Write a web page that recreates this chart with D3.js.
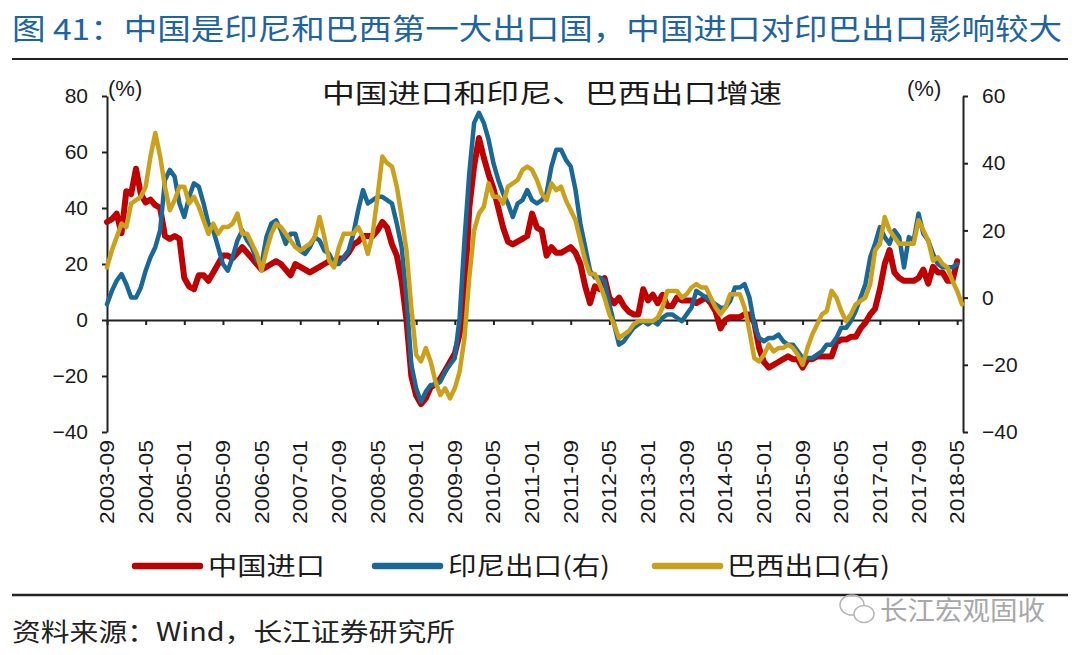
<!DOCTYPE html>
<html>
<head>
<meta charset="utf-8">
<script src="https://cdn.jsdelivr.net/npm/d3@7"></script>
<style>
  html, body { margin: 0; padding: 0; background: #fff; }
  svg { display: block; }
</style>
</head>
<body>
<div id="chart"></div>
<script>
// ---------------- DATA ----------------
const startMonth = new Date(2003, 8, 1); // 2003-09
const tickLabels = ["2003-09","2004-05","2005-01","2005-09","2006-05","2007-01","2007-09","2008-05",
  "2009-01","2009-09","2010-05","2011-01","2011-09","2012-05","2013-01","2013-09","2014-05",
  "2015-01","2015-09","2016-05","2017-01","2017-09","2018-05"];
const leftTicks = [-40, -20, 0, 20, 40, 60, 80];
const rightTicks = [-40, -20, 0, 20, 40, 60];

// China imports YoY (%), left axis, 2003-09 .. 2018-05
const chinaImport = [
  35,36,38,31,46,45,54,45,42,43,41,40,30,29,30,29,15,12,11,16,
  16,14,17,20,23,23,22,24,26,24,22,20,18,19,20,21,20,18,16,20,
  19,18,17,18,19,20,21,21,22,22,24,27,28,30,30,30,32,35,33,27,
  23,14,0,-20,-27,-30,-28,-24,-23,-21,-18,-15,-12,-5,7,40,55,65,58,52,
  47,40,33,28,27,28,29,30,38,33,32,23,26,24,24,25,26,24,20,12,
  6,12,11,15,8,6,8,5,3,2,2,11,7,9,6,9,5,5,8,7,
  7,7,6,7,8,6,3,-3,0,1,1,1,2,2,-1,-10,-15,-17,-16,-15,
  -14,-13,-14,-14,-17,-14,-14,-13,-13,-13,-13,-8,-7,-7,-6,-6,-3,-1,2,4,
  11,20,25,17,15,14,14,14,15,18,13,19,17,17,14,14,21
];
// Indonesia exports YoY (%), right axis, 2003-09 .. 2018-05
const indonesiaExport = [
  -2,2,5,7,4,0,0,3,8,12,15,20,35,38,36,28,24,30,34,33,
  28,22,20,15,10,8,12,17,20,17,15,11,10,18,22,23,20,16,19,19,
  14,13,15,18,17,14,13,10,10,12,14,19,26,32,28,29,30,30,29,28,
  22,15,0,-20,-27,-31,-28,-26,-26,-25,-22,-20,-18,-6,17,37,52,55,52,47,
  40,35,31,28,24,28,29,32,29,28,29,31,39,44,44,41,39,32,22,15,
  8,6,6,5,-2,-8,-14,-13,-11,-9,-8,-7,-8,-7,-8,-6,-5,-5,-6,-7,
  -5,-3,2,1,0,-1,-2,-3,-3,-1,3,3,4,0,-8,-12,-13,-12,-12,-11,
  -13,-14,-14,-16,-18,-18,-18,-17,-16,-14,-14,-12,-9,-9,-7,-4,0,4,12,16,
  21,18,16,20,18,9,18,17,25,19,17,13,10,9,9,9,10
];
// Brazil exports YoY (%), right axis, 2003-09 .. 2018-06
const brazilExport = [
  9,14,18,22,21,28,29,30,33,42,49,42,33,26,29,33,33,28,30,27,
  23,19,22,19,21,21,22,25,19,19,16,13,8,14,19,22,21,19,17,15,
  14,15,16,18,24,18,11,9,15,19,19,19,21,18,13,19,30,42,40,39,
  33,24,14,-3,-17,-19,-15,-19,-25,-29,-27,-30,-27,-22,-12,6,20,25,27,34,
  30,30,28,33,34,35,38,39,38,35,31,29,34,32,33,29,26,23,17,11,
  7,7,4,0,-5,-8,-12,-11,-10,-8,-7,-7,-7,-7,-6,-3,2,2,2,0,
  1,3,4,3,3,0,-3,-5,-3,1,1,1,-3,-10,-18,-19,-17,-14,-16,-15,
  -15,-14,-15,-17,-20,-15,-11,-8,-5,-4,2,0,-4,-7,-5,-2,-1,0,4,14,
  16,24,20,18,16,16,16,16,23,20,17,11,12,10,9,5,2,-2
];

const seriesNames = ["中国进口", "印尼出口(右)", "巴西出口(右)"];
const seriesColors = ["#C00000", "#1A6898", "#CBA11C"];

// ---------------- LAYOUT ----------------
const W = 1080, H = 655;
const plot = { left: 107, right: 962, top: 96, bottom: 432 };
const cjk = "'Noto Sans CJK SC', 'Noto Sans', sans-serif";
const latin = "'Liberation Sans', Arial, sans-serif";

const months = d3.timeMonth.range(startMonth, d3.timeMonth.offset(startMonth, brazilExport.length));
const fmt = d3.timeFormat("%Y-%m");
const monthKeys = months.map(fmt);

const svg = d3.select("#chart").append("svg").attr("width", W).attr("height", H);

const x = d3.scalePoint().domain(monthKeys).range([plot.left, plot.right]);
const yL = d3.scaleLinear().domain([-40, 80]).range([plot.bottom, plot.top]);
const yR = d3.scaleLinear().domain([-40, 60]).range([plot.bottom, plot.top]);

// Header title
svg.append("text")
  .attr("x", 12).attr("y", 40)
  .attr("font-family", cjk).attr("font-size", 29).attr("fill", "#1E64A0")
  .attr("textLength", 1050).attr("lengthAdjust", "spacingAndGlyphs")
  .text("图 41：中国是印尼和巴西第一大出口国，中国进口对印巴出口影响较大");
svg.append("line").attr("x1", 12).attr("x2", 1068).attr("y1", 59).attr("y2", 59)
  .attr("stroke", "#222").attr("stroke-width", 2);

// Chart title
svg.append("text")
  .attr("x", 322).attr("y", 103)
  .attr("font-family", cjk).attr("font-size", 26).attr("fill", "#1a1a1a")
  .attr("textLength", 460).attr("lengthAdjust", "spacingAndGlyphs")
  .text("中国进口和印尼、巴西出口增速");

// Unit labels
svg.append("text").attr("x", 108).attr("y", 96)
  .attr("font-family", latin).attr("font-size", 22).attr("fill", "#1a1a1a").text("(%)");
svg.append("text").attr("x", 907).attr("y", 96)
  .attr("font-family", latin).attr("font-size", 22).attr("fill", "#1a1a1a").text("(%)");

// Axes
const axL = svg.append("g").attr("transform", `translate(${plot.left},0)`)
  .call(d3.axisLeft(yL).tickValues(leftTicks).tickSize(5).tickPadding(14).tickSizeOuter(0));
const axR = svg.append("g").attr("transform", `translate(963,0)`)
  .call(d3.axisRight(yR).tickValues(rightTicks).tickSize(5).tickPadding(14).tickSizeOuter(0));
[axL, axR].forEach(a => {
  a.select(".domain").attr("stroke", "#222").attr("stroke-width", 2);
  a.selectAll(".tick line").attr("stroke", "#222").attr("stroke-width", 2);
  a.selectAll(".tick text").attr("font-family", latin).attr("font-size", 21).attr("fill", "#1a1a1a");
});

// Category axis at zero line
const axX = svg.append("g").attr("transform", `translate(0,${yL(0)})`)
  .call(d3.axisBottom(x).tickValues(tickLabels).tickSize(5).tickFormat("").tickSizeOuter(0));
axX.select(".domain").attr("stroke", "#222").attr("stroke-width", 2);
axX.selectAll(".tick line").attr("stroke", "#222").attr("stroke-width", 2);

// Rotated category labels at bottom
svg.append("g").selectAll("text").data(tickLabels).join("text")
  .attr("transform", d => `translate(${x(d)},440) rotate(-90)`)
  .attr("dy", "0.35em")
  .attr("text-anchor", "end")
  .attr("font-family", latin).attr("font-size", 20).attr("fill", "#1a1a1a")
  .attr("textLength", 84).attr("lengthAdjust", "spacingAndGlyphs")
  .text(d => d);

// Lines
const seriesData = [
  { values: chinaImport, y: yL, width: 6 },
  { values: indonesiaExport, y: yR, width: 4.5 },
  { values: brazilExport, y: yR, width: 4.5 }
];
seriesData.forEach((s, i) => {
  const line = d3.line().x((d, j) => x(monthKeys[j])).y(d => s.y(d)).curve(d3.curveLinear);
  svg.append("path").datum(s.values)
    .attr("d", line)
    .attr("fill", "none")
    .attr("stroke", seriesColors[i])
    .attr("stroke-width", s.width)
    .attr("stroke-linejoin", "round")
    .attr("stroke-linecap", "round");
});

// Legend
const legendItems = [
  { x: 135, tx: 208, len: 117 },
  { x: 375, tx: 448, len: 162 },
  { x: 655, tx: 727, len: 163 }
];
legendItems.forEach((it, i) => {
  svg.append("line").attr("x1", it.x).attr("x2", it.x + 65).attr("y1", 566).attr("y2", 566)
    .attr("stroke", seriesColors[i]).attr("stroke-width", 6.5).attr("stroke-linecap", "round");
  svg.append("text").attr("x", it.tx).attr("y", 575)
    .attr("font-family", cjk).attr("font-size", 25).attr("fill", "#1a1a1a")
    .attr("textLength", it.len).attr("lengthAdjust", "spacingAndGlyphs")
    .text(seriesNames[i]);
});

svg.append("line").attr("x1", 12).attr("x2", 1068).attr("y1", 595).attr("y2", 595)
  .attr("stroke", "#222").attr("stroke-width", 2.5);

// Source
svg.append("text").attr("x", 12).attr("y", 641)
  .attr("font-family", cjk).attr("font-size", 25).attr("fill", "#222")
  .attr("textLength", 443).attr("lengthAdjust", "spacingAndGlyphs")
  .text("资料来源：Wind，长江证券研究所");

// Watermark
const wm = svg.append("g").attr("fill", "none").attr("stroke", "#b5b5b5").attr("stroke-width", 1.5);
wm.append("ellipse").attr("cx", 852).attr("cy", 605).attr("rx", 12).attr("ry", 10);
wm.append("ellipse").attr("cx", 864).attr("cy", 614).attr("rx", 10).attr("ry", 8.5).attr("fill", "#fff");
svg.append("text").attr("x", 880).attr("y", 620)
  .attr("font-family", cjk).attr("font-size", 26).attr("fill", "#a8a8a8")
  .attr("textLength", 165).attr("lengthAdjust", "spacingAndGlyphs")
  .text("长江宏观固收");
</script>
</body>
</html>
